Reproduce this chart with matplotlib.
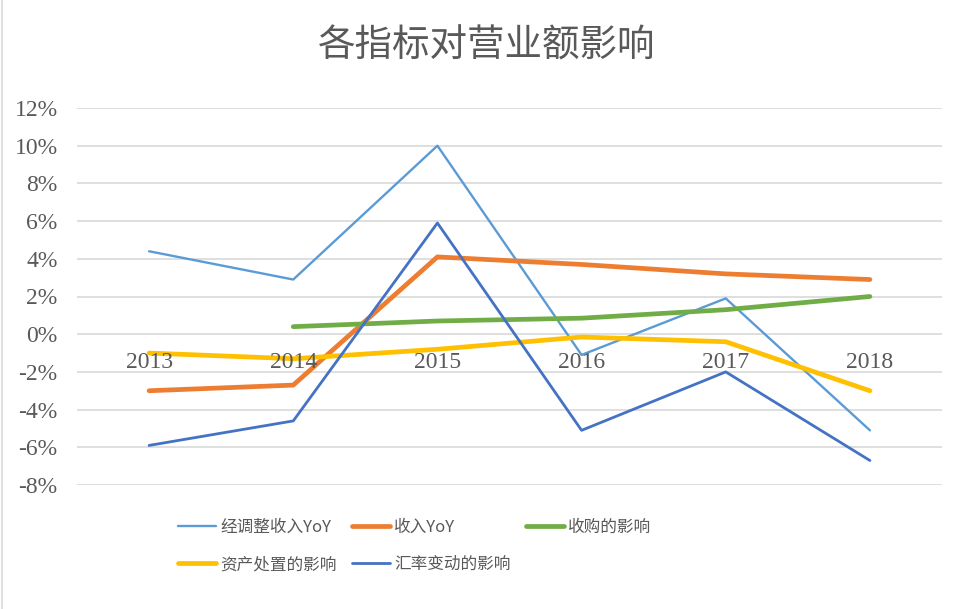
import matplotlib
matplotlib.use("Agg")
import matplotlib.pyplot as plt
from matplotlib.lines import Line2D
import numpy as np

plt.rcParams['font.family'] = ['Noto Sans CJK SC', 'DejaVu Sans']

years = ["2013", "2014", "2015", "2016", "2017", "2018"]
adj_rev_yoy = [4.4, 2.9, 10.0, -1.1, 1.9, -5.1]
rev_yoy = [-3.0, -2.7, 4.1, 3.7, 3.2, 2.9]
acquisition = [np.nan, 0.4, 0.7, 0.85, 1.3, 2.0]
disposal = [-1.0, -1.3, -0.8, -0.15, -0.4, -3.0]
fx = [-5.9, -4.6, 5.9, -5.1, -2.0, -6.7]

names = ["经调整收入YoY", "收入YoY", "收购的影响", "资产处置的影响", "汇率变动的影响"]
series = [adj_rev_yoy, rev_yoy, acquisition, disposal, fx]
colors = ["#5B9BD5", "#ED7D31", "#70AD47", "#FFC000", "#4472C4"]
widths = [1.7, 3.4, 3.4, 3.4, 2.0]
yticks = list(range(-8, 13, 2))

fig = plt.figure(figsize=(9.74, 6.09), dpi=100)
ax = fig.add_axes([77/974, 1-485/609, (942-77)/974, (485-108)/609])

x = np.arange(len(years))
handles = []
for s, n, c, w in zip(series, names, colors, widths):
    h, = ax.plot(x, s, color=c, lw=w, label=n, solid_capstyle='round', solid_joinstyle='round', zorder=3)
    handles.append(h)

ax.set_xlim(-0.5, len(years) - 0.5)
ax.set_ylim(-8, 12)
ax.set_yticks(yticks)
ax.set_yticklabels([f"{v}%" for v in yticks], family=['Liberation Serif'], fontsize=17, color='#595959')
ax.tick_params(axis='y', length=0, pad=14)
ax.set_xticks([])
ax.grid(axis='y', color='#D9D9D9', lw=1.2)
ax.set_axisbelow(True)
for sp in ax.spines.values():
    sp.set_visible(False)

for i, yr in enumerate(years):
    ax.annotate(yr, (i, 0), xytext=(0, -13), textcoords='offset points',
                ha='center', va='top', fontsize=17, color='#595959', family=['Liberation Serif'])

fig.text(0.5, 1-46/609, "各指标对营业额影响", ha='center', va='center', fontsize=27, color='#595959')

order = [0, 3, 1, 4, 2]
leg = fig.legend([handles[i] for i in order], [names[i] for i in order], ncol=3,
                 loc='upper left', bbox_to_anchor=(163/974, 1-504/609), frameon=False,
                 fontsize=12, handlelength=2.3, columnspacing=0.9, handletextpad=0.25,
                 labelspacing=1.2)
for t in leg.get_texts():
    t.set_color('#595959')

fig.add_artist(Line2D([2/974, 2/974], [0, 1], transform=fig.transFigure, color='#D9D9D9', lw=1.2))

fig.savefig("out.png", dpi=100)
